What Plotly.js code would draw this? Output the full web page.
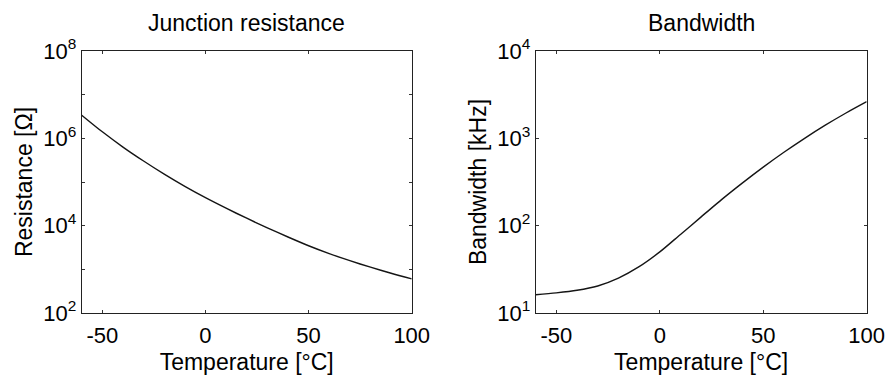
<!DOCTYPE html>
<html>
<head>
<meta charset="utf-8">
<script src="https://cdn.plot.ly/plotly-3.0.1.min.js"></script>
<style>html,body{margin:0;padding:0;background:#fff;}#chart{width:891px;height:380px;}</style>
</head>
<body>
<div id="chart"></div>
<script>
// Temperature in °C
var temperature = [-60, -50, -40, -30, -20, -10, 0, 10, 20, 30, 40, 50, 60, 70, 80, 90, 100];
// Junction resistance in Ω
var resistance = [3.39e6, 1.41e6, 6.31e5, 3.02e5, 1.51e5, 7.94e4, 4.37e4, 2.51e4, 1.48e4, 8.91e3, 5.50e3, 3.47e3, 2.29e3, 1.58e3, 1.12e3, 813, 603];
// Bandwidth in kHz
var bandwidth = [16.2, 17.0, 18.2, 20.4, 25.1, 33.9, 50.1, 79.4, 126, 200, 309, 468, 692, 1000, 1413, 1950, 2630];

var xTicks = [-50, 0, 50, 100];
var xTickText = ['-50', '0', '50', '100'];
var resTickVals = [1e2, 1e3, 1e4, 1e5, 1e6, 1e7, 1e8];
var resTickText = ['10<sup>2</sup>', '', '10<sup>4</sup>', '', '10<sup>6</sup>', '', '10<sup>8</sup>'];
var bwTickVals = [1e1, 1e2, 1e3, 1e4];
var bwTickText = ['10<sup>1</sup>', '10<sup>2</sup>', '10<sup>3</sup>', '10<sup>4</sup>'];

var FONT = 'Liberation Sans, Arial, sans-serif';
var TICK = 22, TITLE = 23;
var lineStyle = {color: '#151515', width: 1.4, shape: 'spline', smoothing: 0.8};

var traces = [
  {x: temperature, y: resistance, type: 'scatter', mode: 'lines', line: lineStyle, xaxis: 'x', yaxis: 'y', hoverinfo: 'none'},
  {x: temperature, y: bandwidth, type: 'scatter', mode: 'lines', line: lineStyle, xaxis: 'x2', yaxis: 'y2', hoverinfo: 'none'}
];

function xax(domain, anchor) {
  return {
    domain: domain, anchor: anchor, range: [-60, 100],
    tickvals: xTicks, ticktext: xTickText, ticks: 'inside', ticklen: 3, tickcolor: '#333',
    ticklabelstandoff: 3,
    showline: true, linecolor: '#222', linewidth: 1, mirror: 'ticks',
    showgrid: false, zeroline: false,
    tickfont: {family: FONT, size: TICK, color: '#000'},
    title: {text: 'Temperature [°C]', font: {family: FONT, size: TITLE, color: '#000'}, standoff: 6}
  };
}
function yax(anchor, range, vals, text, title, standoff) {
  return {
    domain: [0.1763, 0.8658], anchor: anchor, type: 'log', range: range,
    tickvals: vals, ticktext: text, ticks: 'inside', ticklen: 3, tickcolor: '#333',
    showline: true, linecolor: '#222', linewidth: 1, mirror: 'ticks',
    showgrid: false, zeroline: false,
    tickfont: {family: FONT, size: TICK, color: '#000'},
    title: {text: title, font: {family: FONT, size: TITLE, color: '#000'}, standoff: standoff}
  };
}

var layout = {
  width: 891, height: 380,
  margin: {l: 0, r: 0, t: 0, b: 0},
  paper_bgcolor: '#fff', plot_bgcolor: '#fff',
  showlegend: false,
  xaxis: xax([0.0917, 0.4621], 'y'),
  yaxis: yax('x', [2, 8], resTickVals, resTickText, 'Resistance [Ω]', 4),
  xaxis2: xax([0.6012, 0.9727], 'y2'),
  yaxis2: yax('x2', [1, 4], bwTickVals, bwTickText, 'Bandwidth [kHz]', 4),
  annotations: [
    {text: 'Junction resistance', xref: 'paper', yref: 'paper', x: 0.2769, y: 1 - 23/380, xanchor: 'center', yanchor: 'middle', showarrow: false, font: {family: FONT, size: TITLE, color: '#000'}},
    {text: 'Bandwidth', xref: 'paper', yref: 'paper', x: 0.7870, y: 1 - 23/380, xanchor: 'center', yanchor: 'middle', showarrow: false, font: {family: FONT, size: TITLE, color: '#000'}}
  ]
};

Plotly.newPlot('chart', traces, layout, {staticPlot: true, displayModeBar: false});
</script>
</body>
</html>
